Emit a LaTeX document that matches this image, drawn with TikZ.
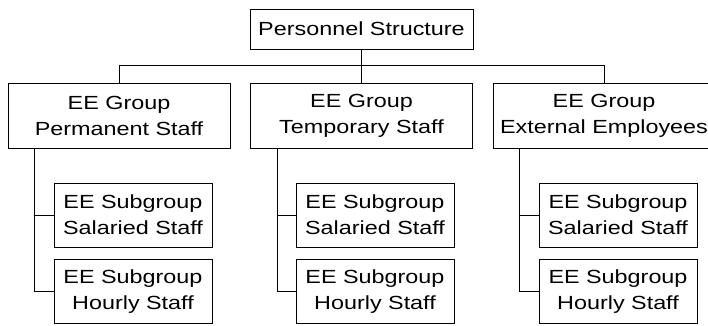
\documentclass[tikz,border=0pt]{standalone}
\usepackage{fontspec}
\setmainfont[FakeStretch=1.23]{Liberation Sans}
\begin{document}
\begin{tikzpicture}[x=1pt,y=-1pt,
  box/.style={draw=black,line width=1pt,fill=white,inner sep=0pt,align=center,
    font=\fontsize{19}{26}\selectfont},
  topbox/.style={box,minimum width=223pt,minimum height=40pt},
  grpbox/.style={box,minimum width=222pt,minimum height=65pt},
  subbox/.style={box,minimum width=158pt,minimum height=64pt},
  conn/.style={draw=black,line width=1pt}]
\useasboundingbox (0,0) rectangle (708,325);
\clip (0,0) rectangle (708,325);
\node[topbox] (top) at (361.5,29) {Personnel Structure};
\node[grpbox] (g1) at (119,115.5) {EE Group\\Permanent Staff};
\node[grpbox] (g2) at (361.5,115.5) {EE Group\\Temporary Staff};
\node[grpbox] (g3) at (604,115.5) {EE Group\\External Employees};
\node[subbox] (s1a) at (133,215) {EE Subgroup\\Salaried Staff};
\node[subbox] (s1b) at (133,291.5) {EE Subgroup\\Hourly Staff};
\node[subbox] (s2a) at (375,215) {EE Subgroup\\Salaried Staff};
\node[subbox] (s2b) at (375,291.5) {EE Subgroup\\Hourly Staff};
\node[subbox] (s3a) at (618,215) {EE Subgroup\\Salaried Staff};
\node[subbox] (s3b) at (618,291.5) {EE Subgroup\\Hourly Staff};
\coordinate (bar) at (361.5,65.5);
\draw[conn] (top.south) -- (g2.north);
\draw[conn] (g1.north) |- (bar) -| (g3.north);
\foreach \g/\a/\b in {g1/s1a/s1b,g2/s2a/s2b,g3/s3a/s3b}{
  \coordinate (\g t) at ([xshift=27pt]\g.south west);
  \draw[conn] (\g t) |- (\b.west);
  \draw[conn] (\g t) |- (\a.west);
}
\end{tikzpicture}
\end{document}
